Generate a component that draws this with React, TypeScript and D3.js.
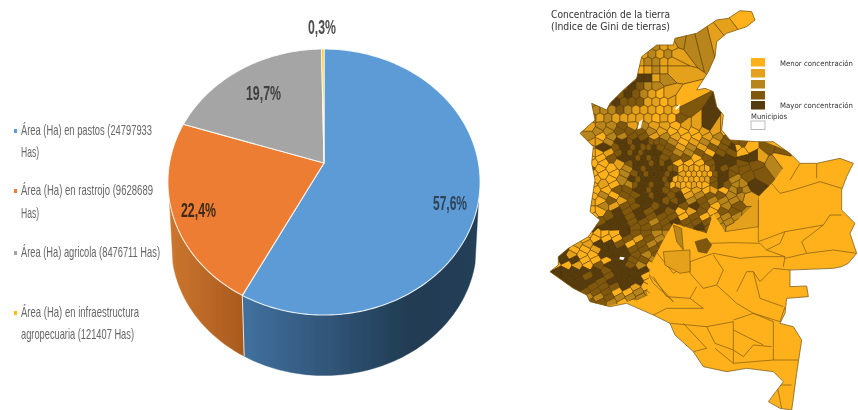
import React from "react";
import * as d3 from "d3";

const sliceNames = ["pastos", "rastrojo", "agricola", "infraestructura"];
const sliceValues = [24797933, 9628689, 8476711, 121407];
const sliceColors = ["#5b9bd5", "#ed7d31", "#a5a5a5", "#ffc000"];
const sliceLabels = ["57,6%", "22,4%", "19,7%", "0,3%"];

const legendRows = [
  { t: "Área (Ha) en pastos (24797933", c: "#5b9bd5" },
  { t: "Has)", c: "" },
  { t: "Área (Ha) en rastrojo (9628689", c: "#ed7d31" },
  { t: "Has)", c: "" },
  { t: "Área (Ha) agricola (8476711 Has)", c: "#a5a5a5" },
  { t: "Área (Ha) en infraestructura", c: "#ffc000" },
  { t: "agropecuaria (121407 Has)", c: "" },
];
const legendBase = [135, 157, 195, 218, 257, 317, 339];
const legendWidth = [131, 18, 132, 18, 139, 118, 113];

const mapClasses = ["#ffb11f", "#e5a11a", "#b8851c", "#80590f", "#553a08"];
const mapLegendY = [58, 69, 80, 91, 101];

type P = [number, number];
const outline: P[] = [
  [565,55],[600,32],[635,35],[645,60],[620,80],[590,90],[560,100],[530,125],[525,170],[505,215],[470,270],[495,265],[520,275],[530,320],[550,345],[545,390],[570,420],[650,425],[700,425],[750,460],[780,490],[830,490],[900,475],[940,490],[920,530],[905,570],[905,630],[945,670],[930,700],[950,760],[925,790],[905,800],[880,805],[750,810],[750,860],[800,858],[805,890],[740,895],[735,940],[720,970],[760,980],[785,1020],[770,1120],[755,1230],[720,1225],[685,1205],[730,1145],[700,1115],[620,1105],[560,1115],[490,1100],[460,1055],[405,1005],[390,970],[340,945],[260,910],[210,920],[150,905],[140,885],[100,865],[30,815],[55,795],[55,770],[85,745],[145,710],[180,660],[150,635],[165,540],[155,490],[160,440],[120,400],[165,360],[155,310],[200,330],[210,310],[250,270],[290,235],[305,170],[350,135],[400,135],[405,115],[470,100],[530,60],
];
const mixedArea: P[] = [
  [0,0],[650,0],[650,415],[760,460],[700,545],[655,590],[655,600],[555,695],[520,640],[500,700],[400,670],[370,720],[330,800],[320,885],[260,905],[150,930],[0,900],
];
const plainLines: P[][] = [
  [[450,785],[520,760],[600,775],[660,770],[735,770]],
  [[510,730],[580,728],[660,730],[680,750],[735,770],[730,800]],
  [[655,590],[655,725]],
  [[655,725],[735,695],[850,675],[870,645],[905,645]],
  [[735,695],[720,730],[680,750]],
  [[785,725],[800,760],[735,775]],
  [[800,760],[880,750],[950,760]],
  [[850,675],[785,725]],
  [[450,785],[450,820],[490,865],[530,855],[550,810],[520,765]],
  [[530,855],[590,910],[640,940],[720,965],[735,920]],
  [[450,895],[470,860]],
  [[340,830],[380,890],[450,895],[490,925],[380,925],[340,945]],
  [[590,875],[620,815],[640,815],[660,895],[730,920]],
  [[640,815],[660,845],[700,805],[750,810]],
  [[580,960],[640,940],[700,965],[700,1080],[580,1090],[580,965],[500,980],[390,970]],
  [[500,980],[525,1030],[580,1050],[610,1070],[640,1035],[695,1040]],
  [[580,990],[620,1010],[670,1035]],
  [[430,970],[500,1045],[460,1055]],
  [[525,1045],[580,1090]],
  [[700,1080],[775,1080]],
  [[700,1155],[755,1155]],
  [[710,1150],[725,1225]],
  [[655,590],[690,545],[720,580],[760,570],[840,545],[905,565]],
  [[830,490],[830,535]],
  [[780,490],[750,540]],
  [[340,745],[400,820],[450,785]],
  [[320,815],[400,905]],
  [[300,780],[340,850],[400,905]],
  [[275,830],[330,880]],
  [[260,850],[320,885]],
];
const tintedAreas: { c: number; p: P[] }[] = [
  { c: 1, p: [[370,755],[450,750],[450,815],[420,820],[375,795]] },
  { c: 1, p: [[575,600],[655,595],[655,680],[555,695]] },
  { c: 3, p: [[465,725],[500,715],[515,735],[500,760],[475,755]] },
  { c: 2, p: [[400,675],[425,685],[430,750],[410,725]] },
  { c: 2, p: [[235,865],[270,865],[322,885],[290,900],[235,885]] },
];
const holes: P[][] = [
  [[298,365],[308,358],[302,385],[292,388]],
  [[405,325],[420,312],[418,322],[408,330]],
  [[240,770],[254,772],[250,780],[238,778]],
];
const looseCells: [number, number, number][] = [
  [600,55,0],[560,85,1],[530,110,1],[490,120,2],[450,130,2],[420,125,2],
  [590,440,0],[630,440,0],
  [685,440,3],[725,450,3],[660,470,1],[720,475,0],[610,475,4],[645,470,4],
  [650,495,3],[700,490,2],[610,505,3],[660,520,3],[625,530,3],[640,555,4],[600,570,3],[620,590,1],
];
const northRows: [number, number, number, string][] = [
  [114,120,12,"...............2.2"],
  [126,120,12,"............2.2.1.2.."],
  [138,120,12,".........3.3.4.2.2.2.1.1"],
  [162,120,12,"........1.4.3.2.1.2.1.2.1"],
  [186,120,12,".......3.1.4.1.1.2.2.1.1"],
  [210,120,12,".......0.2.1.0.0.1.2.1.1"],
  [234,120,12,".......1.3.2.3.4.4.1.2.."],
  [258,120,12,"...2.2.1.3.3.4.3.2.2.."],
  [282,120,12,"..2.4.3.2.3.4.3.2.1.0.1.."],
  [306,120,12,".1.2.4.3.4.3.3.3.1.1.0.1.0"],
  [330,120,12,"1.2.2.2.2.3.2.1.1.1.0.1.0.3"],
  [354,120,12,".2.2.1.2.1.1.1.1.1.0.1.0.3"],
];
const coreRows: [number, number, number, string][] = [
  [378,150,16,"1.2.2.3.1.2.1.1.0.1.1.4"],
  [394,158,16,".2.2.3.3.3.2.1.0.0.0.1.1.0.4."],
  [410,150,16,"2.0.2.2.3.3.1.2.1.0.0.1.2.3.4"],
  [426,158,16,"11.2.4434.4333.2.0.1.2.1.3.33"],
  [442,150,16,"0.44.344343343.3.1.2.1.3.3.4."],
  [458,158,16,"00.1.34343444.3.2.2.3.0.3.3.0"],
  [474,150,16,"0.0.3.4443434.3.3.3.0.3.4.4.."],
  [490,158,16,"0.0..1.34443434.0.0.0.3.4.4.3."],
  [506,150,16,"3.0.0..2.43444433011010343.3.."],
  [522,158,16,"0.0.0.2.34344434.1010103443..."],
  [538,150,16,".0..0.2.4344443401010113.4.2.."],
  [554,158,16,"0.1.0..234434430100100.343.22."],
  [570,150,16,".0.0.3.3.443443.3.0.1.01.0.2.2"],
  [586,158,16,"0.2.0.3.3.4344.34.1.2.3.3.2.2."],
  [602,150,16,"1.0.3.1.34.4.43.34.2.3.2.2.2.."],
  [618,158,16,"..2.1.3.3.4.34.4.3.4.3.0.2.3.."],
  [634,150,16,"0.0..4.3.4.3.4.3.0.1.3.0.3.3."],
  [650,158,16,"0..3.4.3.4.3.3.3.0.3.0.1.2.2.2"],
  [666,150,16,"..3.4.4.3.3.2.3.4.3.3.3.2.2.1."],
  [682,158,16,"4.4.4.4.3.3.3.3.3.3.4.3.2.1.1"],
];
const southRows: [number, number, number, string][] = [
  [700,15,16,"........0.00.0.4.3.3.2.2.3.4.3.."],
  [716,23,16,".......0.0.0.0.3.1.3.2.3.4.3.."],
  [732,15,16,"......1.1.4.4.3.0.3.2.3.4..."],
  [748,23,16,"...4.0.0.1.44.4.3.3.3.3.3.."],
  [764,15,16,"..44.1.0.0.44.44.3.2.3.3.."],
  [780,23,16,"...4.4.0.0.0.44.3.3.2.3.3.."],
  [796,15,16,"..0.0.1.0.3.4.4.3.2.0.0"],
  [812,23,16,"4.44.4.4.4.3.4.44.4.1.0.0"],
  [828,15,16,".44.4.4.3.4.3.44.4.0.0"],
  [844,23,16,"..4.4.4.4.3.4.4.44.0.."],
  [860,15,16,"....4.44.3.3.3.4.1.0"],
  [876,23,16,".......3.3.3.0.0.2.2.."],
  [892,15,16,"........2.2.3.2.2.2.2.."],
  [908,23,16,"........3.3.2.0.0.."],
];

const W = 858, H = 410;
const apexX = 324, apexY = 163, radX = 154.5, radY = 130.3, persp = -0.143;
const sideDepth = 64, sideShrink = 0.977;
const sideStart = (106 * Math.PI) / 180, sideEnd = (254 * Math.PI) / 180;

const rim = (a: number, s = 1, dy = 0): P => {
  const x = Math.sin(a), y = -Math.cos(a), w = 1 + persp * y;
  return [apexX + (s * radX * x) / w, apexY + dy + (s * radY * y) / w];
};
const samples = (a0: number, a1: number) => {
  const n = Math.max(2, Math.ceil(Math.abs(a1 - a0) / 0.02));
  return d3.range(n + 1).map((i) => a0 + ((a1 - a0) * i) / n);
};
const line = d3.line<P>();

const Txt = (p: any) => (
  <text fontFamily="'Liberation Sans Narrow','Liberation Sans',sans-serif" lengthAdjust="spacingAndGlyphs" {...p} />
);

export default function App() {
  const arcs = d3.pie<number>().sort(null).startAngle(0).endAngle(Math.PI * 2)(sliceValues);
  const sx = d3.scaleLinear().domain([0, 954]).range([540, 858]);
  const sy = d3.scaleLinear().domain([0, 1230]).range([0, 410]);
  const mp = (pts: P[]) => pts.map((q) => [sx(q[0]), sy(q[1])] as P);
  const closed = (pts: P[]) => line(mp(pts)) + "Z";

  const seeds: { p: P; c: number }[] = looseCells.map((s) => ({ p: [s[0], s[1]] as P, c: s[2] }));
  [...northRows, ...coreRows, ...southRows].forEach(([y, x0, step, cls]) =>
    Array.from(cls).forEach((ch, i) => {
      if (ch !== ".") seeds.push({ p: [x0 + i * step, y], c: +ch });
    })
  );
  const vor = d3.Delaunay.from(seeds.map((s) => s.p)).voronoi([0, 0, 954, 1230]);

  const blueStart = arcs[0].endAngle;
  const labelSpec = [
    { x: 433, y: 210, w: 34, c: "#2f4358" },
    { x: 181, y: 217, w: 35, c: "#3b2a1c" },
    { x: 246, y: 100, w: 35, c: "#404040" },
    { x: 308, y: 34, w: 28, c: "#4d4d4d" },
  ];

  return (
    <svg width={W} height={H} viewBox={`0 0 ${W} ${H}`} style={{ position: "absolute", left: 0, top: 0, background: "#fff" }}>
      <defs>
        <linearGradient id="blueSide" gradientUnits="userSpaceOnUse" x1="243" x2="480" y1="0" y2="0">
          <stop offset="0" stopColor="#41719f" />
          <stop offset="0.4" stopColor="#2f5274" />
          <stop offset="0.7" stopColor="#203c52" />
          <stop offset="1" stopColor="#243f56" />
        </linearGradient>
        <linearGradient id="orangeSide" gradientUnits="userSpaceOnUse" x1="170" x2="243" y1="0" y2="0">
          <stop offset="0" stopColor="#cc762e" />
          <stop offset="1" stopColor="#a95a1e" />
        </linearGradient>
        <filter id="soft" x="-5%" y="-5%" width="110%" height="110%"><feGaussianBlur stdDeviation="0.5" /></filter>
        <filter id="softer" x="-5%" y="-5%" width="110%" height="110%"><feGaussianBlur stdDeviation="0.35" /></filter>
        <clipPath id="country"><path d={closed(outline)} /></clipPath>
        <clipPath id="mixed"><path d={closed(mixedArea)} /></clipPath>
      </defs>

      <g filter="url(#softer)">
        {legendRows.map((r, i) => (
          <g key={i}>
            {r.c && <rect x={14} y={legendBase[i] - 6} width={3} height={4} fill={r.c} />}
            <Txt x={21} y={legendBase[i]} fontSize={14.5} fill="#666" textLength={legendWidth[i]}>{r.t}</Txt>
          </g>
        ))}
      </g>

      <g filter="url(#softer)">
        {[
          { a0: blueStart, a1: sideStart, f: "url(#blueSide)" },
          { a0: sideEnd, a1: blueStart, f: "url(#orangeSide)" },
        ].map((s, i) => {
          const as = samples(s.a0, s.a1);
          const pts = [...as.map((a) => rim(a)), ...as.slice().reverse().map((a) => rim(a, sideShrink, sideDepth))];
          return <path key={i} d={line(pts) + "Z"} fill={s.f} stroke={s.f} strokeWidth={0.4} />;
        })}
        <path d={line([rim(blueStart), rim(blueStart, sideShrink, sideDepth)])!} stroke="#e8e4df" strokeWidth={1} fill="none" />
        {arcs.map((d, i) => {
          const pts: P[] = [[apexX, apexY], ...samples(d.startAngle, d.endAngle).map((a) => rim(a))];
          return <path key={sliceNames[i]} d={line(pts) + "Z"} fill={sliceColors[i]} stroke="#fff" strokeOpacity={0.85} strokeWidth={1.1} strokeLinejoin="round" />;
        })}
        {sliceLabels.map((t, i) => (
          <Txt key={t} x={labelSpec[i].x} y={labelSpec[i].y} fontSize={21} fontWeight={700} fill={labelSpec[i].c} textLength={labelSpec[i].w}>{t}</Txt>
        ))}
      </g>

      <g filter="url(#soft)">
        <g clipPath="url(#country)">
          <path d={closed(outline)} fill={mapClasses[0]} />
          {plainLines.map((l, i) => (
            <path key={i} d={line(mp(l))!} fill="none" stroke="#8a6410" strokeWidth={0.8} />
          ))}
          {tintedAreas.map((t, i) => (
            <path key={i} d={closed(t.p)} fill={mapClasses[t.c]} stroke="#6b4d0c" strokeWidth={0.6} />
          ))}
          <g clipPath="url(#mixed)">
            {seeds.map((s, i) => {
              const cell = vor.cellPolygon(i);
              return cell ? (
                <path key={i} d={closed(cell as unknown as P[])} fill={mapClasses[s.c]} stroke="#4a3408" strokeWidth={0.5} />
              ) : null;
            })}
          </g>
          {holes.map((h, i) => <path key={i} d={closed(h)} fill="#fff" />)}
        </g>
        <path d={closed(outline)} fill="none" stroke="#7d5c12" strokeWidth={0.8} />
      </g>

      <g filter="url(#softer)" fontFamily="'DejaVu Sans',sans-serif" fill="#333">
        <text x={551} y={18} fontSize={10} textLength={119} lengthAdjust="spacingAndGlyphs">Concentración de la tierra</text>
        <text x={551} y={30} fontSize={10} textLength={119} lengthAdjust="spacingAndGlyphs">(Indice de Gini de tierras)</text>
        {mapClasses.map((c, i) => <rect key={c} x={751} y={mapLegendY[i]} width={14} height={8.5} fill={c} />)}
        <text x={780} y={66} fontSize={7.5} textLength={73} lengthAdjust="spacingAndGlyphs">Menor concentración</text>
        <text x={780} y={108} fontSize={7.5} textLength={73} lengthAdjust="spacingAndGlyphs">Mayor concentración</text>
        <text x={751} y={119} fontSize={7.5} textLength={36} lengthAdjust="spacingAndGlyphs">Municipios</text>
        <rect x={751} y={121} width={14} height={8.5} fill="#fff" stroke="#aaa" strokeWidth={0.8} />
      </g>
    </svg>
  );
}
